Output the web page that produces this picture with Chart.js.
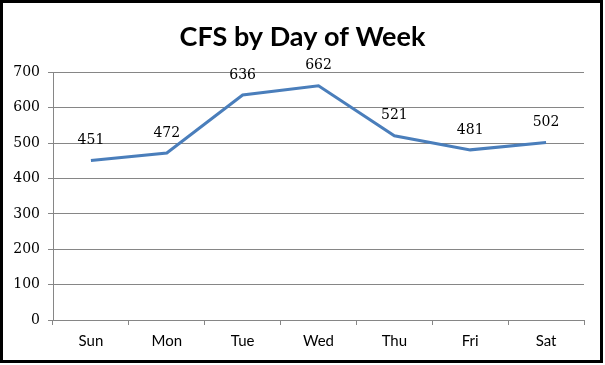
<!DOCTYPE html>
<html>
<head>
<meta charset="utf-8">
<script src="https://cdn.jsdelivr.net/npm/chart.js@4"></script>
<style>
  html, body { margin: 0; padding: 0; background: #fff; }
  #wrap { width: 605px; height: 365px; }
</style>
</head>
<body>
<div id="wrap"><canvas id="cfsChart" width="605" height="365"></canvas></div>
<script>
// Data
const days = ['Sun', 'Mon', 'Tue', 'Wed', 'Thu', 'Fri', 'Sat'];
const calls = [451, 472, 636, 662, 521, 481, 502];
const yTicks = [0, 100, 200, 300, 400, 500, 600, 700];

const numFont = 'DejaVu Serif';

// value labels above each point
const valueLabels = {
  id: 'valueLabels',
  afterDatasetsDraw(chart) {
    const ctx = chart.ctx;
    const meta = chart.getDatasetMeta(0);
    ctx.save();
    ctx.font = '14px "' + numFont + '"';
    ctx.fillStyle = '#000';
    ctx.textAlign = 'center';
    ctx.textBaseline = 'middle';
    meta.data.forEach((pt, i) => {
      ctx.fillText(calls[i], pt.x, pt.y - 20);
    });
    ctx.restore();
  }
};

// black frame around the whole chart
const frame = {
  id: 'frame',
  afterDraw(chart) {
    const ctx = chart.ctx;
    ctx.save();
    ctx.strokeStyle = '#000';
    ctx.lineWidth = 3;
    ctx.strokeRect(1.5, 1.5, 600, 360);
    ctx.restore();
  }
};

new Chart(document.getElementById('cfsChart'), {
  type: 'line',
  data: {
    labels: days,
    datasets: [{
      data: calls,
      borderColor: '#4A7EBB',
      borderWidth: 3,
      pointRadius: 0,
      tension: 0
    }]
  },
  options: {
    responsive: false,
    animation: false,
    layout: { padding: { top: 5, right: 0, bottom: 0, left: 0 } },
    plugins: {
      legend: { display: false },
      tooltip: { enabled: false },
      title: {
        display: true,
        text: 'CFS by Day of Week',
        color: '#000',
        font: { family: 'Lato', size: 27, weight: 'bold' },
        padding: { top: 16, bottom: 19 }
      }
    },
    scales: {
      x: {
        offset: true,
        afterFit: s => { s.height = 45; },
        grid: {
          offset: true,
          drawOnChartArea: false,
          color: '#868686',
          tickLength: 5
        },
        border: { color: '#868686', width: 1 },
        ticks: {
          color: '#000',
          padding: 7,
          font: { family: 'Lato', size: 15 }
        }
      },
      y: {
        min: 0,
        max: 700,
        afterFit: s => { s.width = 53; },
        afterBuildTicks: s => { s.ticks = yTicks.map(v => ({ value: v })); },
        grid: { color: '#868686', tickLength: 5 },
        border: { color: '#868686', width: 1 },
        ticks: {
          color: '#000',
          padding: 8,
          font: { family: numFont, size: 14 }
        }
      },
      // empty right-hand spacer so the title stays centred on the canvas
      yRight: {
        position: 'right',
        afterFit: s => { s.width = 21; },
        grid: { display: false },
        border: { display: false },
        ticks: { display: false }
      }
    }
  },
  plugins: [valueLabels, frame]
});
</script>
</body>
</html>
